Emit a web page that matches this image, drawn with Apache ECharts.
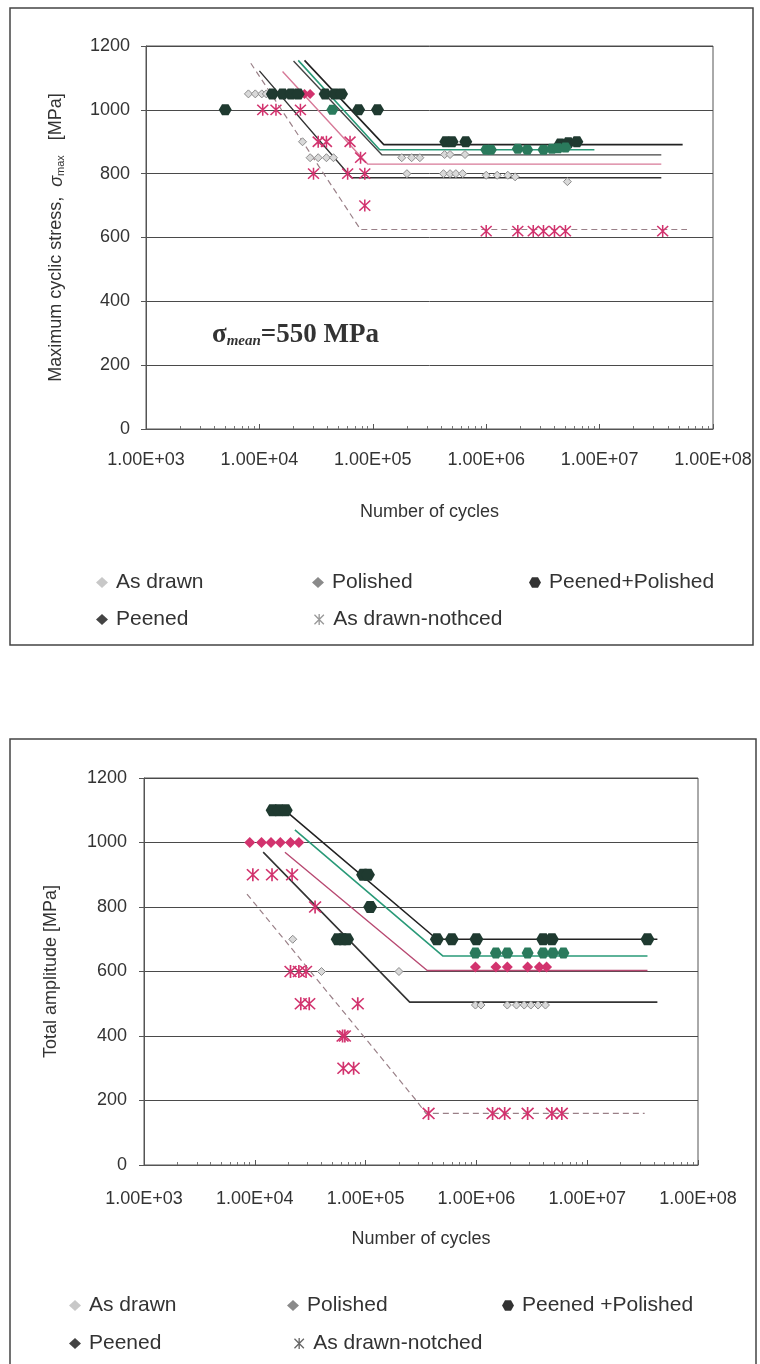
<!DOCTYPE html>
<html>
<head>
<meta charset="utf-8">
<script src="https://cdn.jsdelivr.net/npm/echarts@6/dist/echarts.min.js"></script>
<style>
html,body{margin:0;padding:0;background:#fff;}
#c{width:760px;height:1364px;}
</style>
</head>
<body>
<div id="c"></div>
<script>
// ---------- tick labels ----------
const xTickLabels = ['1.00E+03','1.00E+04','1.00E+05','1.00E+06','1.00E+07','1.00E+08'];
const yTickLabels = ['0','200','400','600','800','1000','1200'];

// ---------- TOP chart: maximum cyclic stress (sigma_mean = 550 MPa) ----------
const topAsDrawn = [[8.0e3,1050],[9.2e3,1050],[1.05e4,1050],[1.15e4,1050],[2.4e4,900],[2.8e4,850],[3.3e4,850],[3.9e4,850],[4.5e4,850],[1.8e5,850],[2.2e5,850],[2.6e5,850],[4.3e5,860],[4.8e5,860],[6.5e5,860],[2.0e5,800],[4.2e5,800],[4.8e5,800],[5.4e5,800],[6.2e5,800],[1.0e6,795],[1.25e6,795],[1.55e6,795],[1.8e6,790],[5.2e6,775]];
const topPolished = [[2.5e4,1050],[2.8e4,1050]];
const topPeenedPolished = [[5.0e3,1000],[1.3e4,1050],[1.6e4,1050],[1.9e4,1050],[2.2e4,1050],[3.8e4,1050],[4.6e4,1050],[5.3e4,1050],[7.5e4,1000],[1.1e5,1000],[4.4e5,900],[5.0e5,900],[6.6e5,900],[4.5e6,893],[5.3e6,897],[6.3e6,900]];
const topPeened = [[4.4e4,1000],[1.0e6,875],[1.1e6,875],[1.9e6,878],[2.3e6,875],[3.2e6,875],[3.8e6,878],[4.3e6,880],[5.0e6,882]];
const topNotched = [[1.07e4,1000],[1.4e4,1000],[2.3e4,1000],[3.3e4,900],[3.9e4,900],[6.3e4,900],[7.8e4,850],[3.0e4,800],[6.0e4,800],[8.5e4,800],[8.5e4,700],[1.0e6,620],[1.9e6,620],[2.6e6,620],[3.2e6,620],[4.0e6,620],[5.0e6,620],[3.6e7,620]];
// fitted S-N curves (top)
const topFitA = [[2.5e4,1155],[1.25e5,891],[5.4e7,891]];
const topFitB = [[2.2e4,1155],[1.15e5,875],[9.0e6,875]];
const topFitC = [[2.0e4,1153],[1.2e5,859],[3.5e7,859]];
const topFitD = [[1.6e4,1120],[9.0e4,830],[3.5e7,830]];
const topFitE = [[1.0e4,1122],[6.5e4,787],[3.5e7,787]];
const topFitF = [[8.4e3,1146],[7.8e4,625],[5.9e7,625]];

// ---------- BOTTOM chart: total amplitude ----------
const botAsDrawn = [[2.2e4,700],[4.0e4,600],[2.0e5,600],[9.8e5,496],[1.1e6,496],[1.9e6,496],[2.3e6,496],[2.7e6,496],[3.1e6,496],[3.6e6,496],[4.2e6,496]];
const botPolished = [[9.0e3,1000],[1.15e4,1000],[1.4e4,1000],[1.7e4,1000],[2.1e4,1000],[2.5e4,1000],[9.8e5,614],[1.5e6,614],[1.9e6,614],[2.9e6,614],[3.7e6,614],[4.3e6,614]];
const botPeenedPolished = [[1.45e4,1100],[1.65e4,1100],[1.9e4,1100],[9.5e4,900],[1.05e5,900],[5.6e4,700],[6.2e4,700],[6.8e4,700],[1.1e5,800],[4.4e5,700],[6.0e5,700],[1.0e6,700],[4.0e6,700],[4.8e6,700],[3.5e7,700]];
const botPeened = [[9.8e5,657],[1.5e6,657],[1.9e6,657],[2.9e6,657],[4.0e6,657],[4.9e6,657],[6.1e6,657]];
const botNotched = [[9.6e3,900],[1.43e4,900],[2.17e4,900],[3.5e4,800],[2.1e4,600],[2.5e4,600],[2.9e4,600],[2.6e4,500],[3.1e4,500],[8.5e4,500],[6.2e4,400],[6.5e4,400],[6.3e4,300],[7.8e4,300],[3.7e5,160],[1.4e6,160],[1.8e6,160],[2.9e6,160],[4.8e6,160],[5.9e6,160]];
// fitted S-N curves (bottom)
const botFitA = [[1.9e4,1098],[4.4e5,700],[4.3e7,700]];
const botFitB = [[2.3e4,1039],[5.0e5,648],[3.5e7,648]];
const botFitC = [[1.87e4,970],[3.6e5,603],[3.5e7,603]];
const botFitD = [[1.19e4,970],[2.5e5,505],[4.3e7,505]];
const botFitE = [[8.5e3,840],[2.9e5,198],[3.5e5,160],[3.3e7,160]];

// ---------- styles ----------
const FONT = '"Liberation Sans", Arial, sans-serif';
const TXT = '#333';
const GRID = '#4a4a4a';
const PINK = '#d2336e';
const ASTER = 'path://M8.8,0 L11.2,0 L11.2,20 L8.8,20 Z M0.6,2.3 L2.3,0.6 L19.4,17.7 L17.7,19.4 Z M17.7,0.6 L19.4,2.3 L2.3,19.4 L0.6,17.7 Z';
const HEX = 'path://M5,0 L15,0 L20,8.66 L15,17.32 L5,17.32 L0,8.66 Z';

function xAxisCfg(gi, labelMargin, nameGap) {
  return {
    type: 'log', logBase: 10, min: 1e3, max: 1e8, gridIndex: gi,
    name: 'Number of cycles', nameLocation: 'middle', nameGap: nameGap,
    nameTextStyle: {fontFamily: FONT, fontSize: 18, color: TXT},
    axisLine: {show: true, lineStyle: {color: '#555', width: 1}},
    axisTick: {show: true, inside: true, length: 5, lineStyle: {color: '#555'}},
    minorTick: {show: true, splitNumber: 9, length: 3, lineStyle: {color: '#777'}},
    splitLine: {show: false},
    axisLabel: {
      margin: labelMargin, fontFamily: FONT, fontSize: 18, color: TXT,
      formatter: v => xTickLabels[Math.round(Math.log10(v)) - 3]
    }
  };
}
function yAxisCfg(gi, name, rich, nameGap, labelMargin) {
  return {
    type: 'value', min: 0, max: 1200, interval: 200, gridIndex: gi,
    name: name, nameLocation: 'middle', nameGap: nameGap, nameRotate: 90,
    nameTextStyle: {fontFamily: FONT, fontSize: 18, color: TXT, rich: rich},
    axisLine: {show: true, lineStyle: {color: '#555', width: 1}},
    axisTick: {show: true, length: 5, lineStyle: {color: '#555'}},
    splitLine: {show: true, lineStyle: {color: GRID, width: 1}},
    axisLabel: {margin: labelMargin, fontFamily: FONT, fontSize: 18, color: TXT,
      formatter: v => yTickLabels[Math.round(v / 200)]}
  };
}
function sc(name, data, gi, symbol, size, color, border) {
  return {
    name: name, type: 'scatter', xAxisIndex: gi, yAxisIndex: gi, data: data,
    symbol: symbol, symbolSize: size, z: 5,
    itemStyle: {color: color, borderColor: border || color, borderWidth: border ? 1 : 0, opacity: 1}
  };
}
function fit(id, data, gi, color, width, dashed) {
  return {
    name: id, type: 'line', xAxisIndex: gi, yAxisIndex: gi, data: data,
    showSymbol: false, symbol: 'none', silent: true, z: 3,
    lineStyle: {color: color, width: width, type: dashed ? [6, 4] : 'solid'}
  };
}
function leg(name, cx, cy, icon, color) {
  return {
    data: [{name: name, icon: icon, itemStyle: {color: color, borderWidth: 0}}],
    left: cx - 6, top: cy - 11, itemWidth: 12, itemHeight: 11, itemGap: 0,
    selectedMode: false, padding: 0,
    textStyle: {fontFamily: FONT, fontSize: 21, color: TXT, padding: [0, 0, 0, 3]}
  };
}

const chart = echarts.init(document.getElementById('c'), null, {renderer: 'canvas'});
chart.setOption({
  animation: false,
  backgroundColor: '#fff',
  grid: [
    {left: 146, right: 47, top: 46, height: 383, show: true, borderColor: '#555', borderWidth: 1, backgroundColor: 'transparent'},
    {left: 144, right: 62, top: 778, height: 387, show: true, borderColor: '#555', borderWidth: 1, backgroundColor: 'transparent'}
  ],
  xAxis: [xAxisCfg(0, 22, 74), xAxisCfg(1, 25, 65)],
  yAxis: [
    yAxisCfg(0, 'Maximum cyclic stress,  {it|σ}{sb|max}   [MPa]',
      {it: {fontFamily: FONT, fontSize: 18, color: TXT, fontStyle: 'italic'},
       sb: {fontFamily: FONT, fontSize: 11, color: TXT, padding: [8, 0, 0, 0]}}, 80, 16),
    yAxisCfg(1, 'Total amplitude [MPa]', {}, 84, 17)
  ],
  legend: [
    leg('As drawn', 102, 583, 'diamond', '#c8c8c8'),
    leg('Polished', 318, 583, 'diamond', '#8a8a8a'),
    leg('Peened+Polished', 535, 583, HEX, '#333'),
    leg('Peened', 102, 620, 'diamond', '#444'),
    leg('As drawn-nothced', 320, 620, ASTER, '#999'),
    leg('As drawn', 75, 1306, 'diamond', '#c8c8c8'),
    leg('Polished', 293, 1306, 'diamond', '#8a8a8a'),
    leg('Peened +Polished', 508, 1306, HEX, '#333'),
    leg('Peened', 75, 1344, 'diamond', '#444'),
    leg('As drawn-notched', 300, 1344, ASTER, '#666')
  ],
  graphic: [
    {type: 'rect', shape: {x: 10, y: 8, width: 743, height: 637}, style: {fill: 'none', stroke: '#444', lineWidth: 1.5}, silent: true},
    {type: 'rect', shape: {x: 10, y: 739, width: 746, height: 640}, style: {fill: 'none', stroke: '#444', lineWidth: 1.5}, silent: true},
    {type: 'text', left: 212, top: 322, silent: true,
     style: {text: '{s|σ}{m|mean}{s|=550 MPa}',
       rich: {s: {fontFamily: '"Liberation Serif", serif', fontWeight: 'bold', fontSize: 27, fill: '#333'},
              m: {fontFamily: '"Liberation Serif", serif', fontWeight: 'bold', fontStyle: 'italic', fontSize: 15, fill: '#333', padding: [12, 0, 0, 0]}}}}
  ],
  series: [
    // top fits
    fit('fitTopA', topFitA, 0, '#222', 1.6),
    fit('fitTopB', topFitB, 0, '#2a9a78', 1.6),
    fit('fitTopC', topFitC, 0, '#444', 1.4),
    fit('fitTopD', topFitD, 0, '#d77a98', 1.4),
    fit('fitTopE', topFitE, 0, '#333', 1.4),
    fit('fitTopF', topFitF, 0, '#9a8088', 1.2, true),
    // top points
    sc('As drawn', topAsDrawn, 0, 'diamond', 8, '#d9d9d9', '#8c8c8c'),
    sc('Polished', topPolished, 0, 'diamond', 10, PINK),
    sc('Peened+Polished', topPeenedPolished, 0, HEX, [13, 11], '#1f3a30'),
    sc('Peened', topPeened, 0, HEX, [12, 10], '#2a7a5c'),
    sc('As drawn-nothced', topNotched, 0, ASTER, 12, PINK),
    // bottom fits
    fit('fitBotA', botFitA, 1, '#222', 1.6),
    fit('fitBotB', botFitB, 1, '#2a9a78', 1.6),
    fit('fitBotC', botFitC, 1, '#b84a72', 1.4),
    fit('fitBotD', botFitD, 1, '#333', 1.6),
    fit('fitBotE', botFitE, 1, '#9a8088', 1.2, true),
    // bottom points
    sc('As drawn', botAsDrawn, 1, 'diamond', 8, '#d9d9d9', '#8c8c8c'),
    sc('Polished', botPolished, 1, 'diamond', 11, PINK),
    sc('Peened +Polished', botPeenedPolished, 1, HEX, [14, 12], '#1f3a30'),
    sc('Peened', botPeened, 1, HEX, [12, 11], '#2a7a5c'),
    sc('As drawn-notched', botNotched, 1, ASTER, 13, PINK)
  ]
});
</script>
</body>
</html>
